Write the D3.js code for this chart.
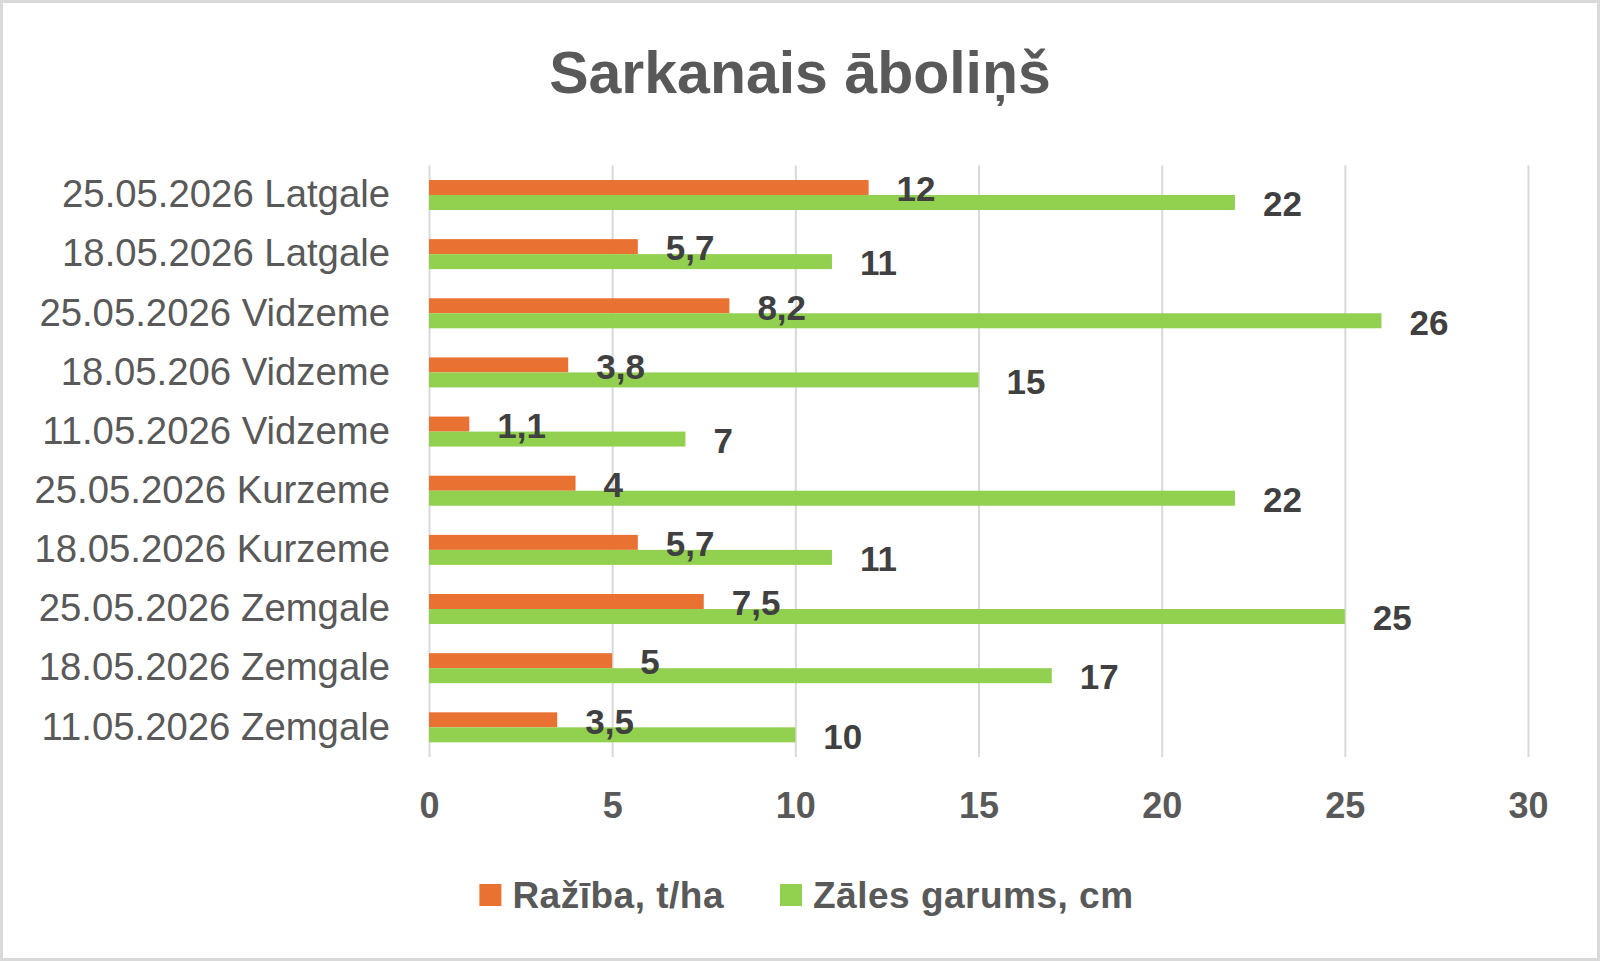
<!DOCTYPE html>
<html>
<head>
<meta charset="utf-8">
<script src="https://cdn.jsdelivr.net/npm/d3@7"></script>
<style>
	body { margin: 0; background: #fff; }
	svg { display: block; font-family: "Liberation Sans", Arial, sans-serif; }
</style>
</head>
<body>
<svg id="chart" width="1600" height="961"></svg>
<script>
const categories = [
	"25.05.2026 Latgale",
	"18.05.2026 Latgale",
	"25.05.2026 Vidzeme",
	"18.05.206 Vidzeme",
	"11.05.2026 Vidzeme",
	"25.05.2026 Kurzeme",
	"18.05.2026 Kurzeme",
	"25.05.2026 Zemgale",
	"18.05.2026 Zemgale",
	"11.05.2026 Zemgale"
];
const seriesNames = ["Ražība, t/ha", "Zāles garums, cm"];
const razibaValues = [12, 5.7, 8.2, 3.8, 1.1, 4, 5.7, 7.5, 5, 3.5];
const garumsValues = [22, 11, 26, 15, 7, 22, 11, 25, 17, 10];
const xTicks = [0, 5, 10, 15, 20, 25, 30];

const Width = 1600;
const Height = 961;
const colors = ["#E97132", "#92D050"];
const barH = 15;  // each bar's thickness

const svg = d3.select("#chart");

// light frame around the whole chart area
svg.append("rect").attr("x", 1.5).attr("y", 1.5).attr("width", Width - 3).attr("height", Height - 3)
	.attr("fill", "#fff").attr("stroke", "#d9d9d9").attr("stroke-width", 3);

svg.append("text").attr("x", 800).attr("y", 93).attr("text-anchor", "middle")
	.attr("font-size", 59).attr("font-weight", "bold").attr("fill", "#595959")
	.text("Sarkanais āboliņš");

const data = categories.map((c, i) => ({ cat: c, values: [razibaValues[i], garumsValues[i]] }));

const x = d3.scaleLinear().domain([0, 30]).range([429, 1528]);
const y = d3.scaleBand().domain(categories).range([165.4, 756.9]);
// orange on top, green underneath, pair centred in the band
const ys = d3.scaleBand().domain([0, 1]).range([y.bandwidth() / 2 - barH, y.bandwidth() / 2 + barH]);

// vertical grid lines first so bars cover them
const grid = svg.append("g").attr("transform", `translate(0,${y.range()[1]})`)
	.call(d3.axisBottom(x).tickValues(xTicks).tickSize(-(y.range()[1] - y.range()[0])).tickFormat(""));
grid.select(".domain").remove();
grid.selectAll("line").attr("stroke", "#d9d9d9").attr("stroke-width", 2);

// x tick labels
const xaxis = svg.append("g").attr("transform", "translate(0,818)")
	.call(d3.axisBottom(x).tickValues(xTicks).tickSize(0).tickPadding(0));
xaxis.select(".domain").remove();
xaxis.selectAll("text").attr("font-size", 36).attr("font-weight", "bold").attr("fill", "#595959")
	.attr("font-family", "Liberation Sans, Arial, sans-serif").attr("dy", 0);

// category labels
const yaxis = svg.append("g").attr("transform", `translate(${x(0)},0)`)
	.call(d3.axisLeft(y).tickSize(0).tickPadding(39));
yaxis.select(".domain").remove();
yaxis.selectAll("text").attr("font-size", 38.3).attr("fill", "#595959")
	.attr("font-family", "Liberation Sans, Arial, sans-serif");

const rows = svg.append("g").selectAll("g").data(data).enter()
	.append("g").attr("transform", d => `translate(0,${y(d.cat)})`);
rows.selectAll("rect").data(d => d.values).enter().append("rect")
	.attr("x", x(0)).attr("y", (v, i) => ys(i))
	.attr("width", v => x(v) - x(0)).attr("height", ys.bandwidth())
	.attr("fill", (v, i) => colors[i]);
rows.selectAll("text").data(d => d.values).enter().append("text")
	.attr("x", v => x(v) + 28).attr("y", (v, i) => ys(i) + ys.bandwidth() / 2 + 1.5)
	.attr("dy", "0.35em").attr("font-size", 35).attr("font-weight", "bold").attr("fill", "#404040")
	.text(v => String(v).replace(".", ","));

// legend, centred under the plot
const legend = svg.append("g").attr("transform", "translate(0,895)");
let lx = 0;
const items = legend.selectAll("g").data(seriesNames).enter().append("g");
items.append("rect").attr("y", -11).attr("width", 22).attr("height", 22).attr("fill", (s, i) => colors[i]);
items.append("text").attr("x", 33).attr("dy", "0.35em").attr("font-size", 37).attr("letter-spacing", 0.5)
	.attr("font-weight", "bold").attr("fill", "#595959").text(s => s);
items.each(function() {
	d3.select(this).attr("transform", `translate(${lx},0)`);
	lx += 33 + this.querySelector("text").getComputedTextLength() + 56;
});
const legW = lx - 56;
legend.attr("transform", `translate(${806.5 - legW / 2},895)`);
</script>
</body>
</html>
